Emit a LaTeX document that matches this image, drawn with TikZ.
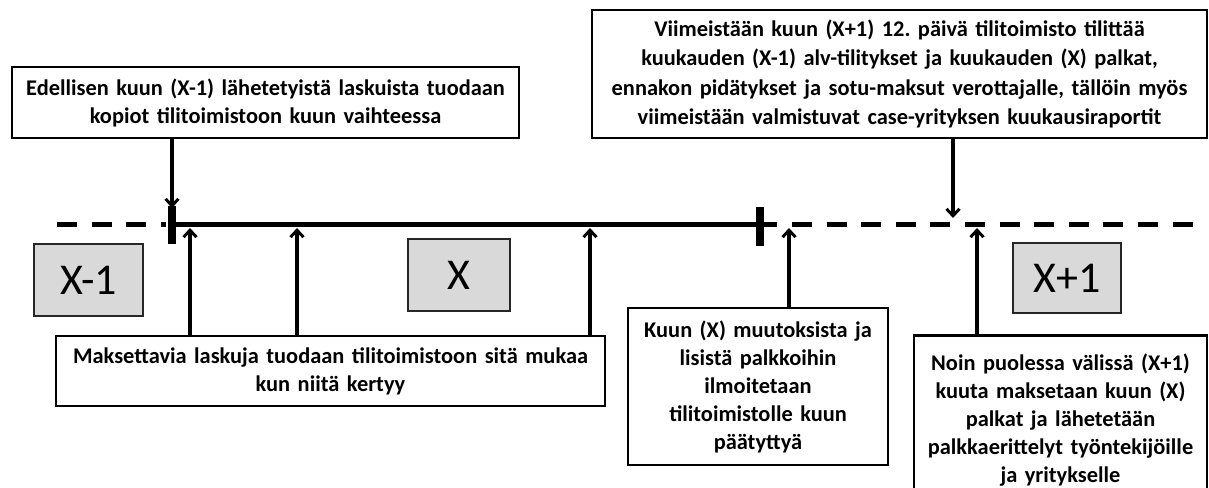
\documentclass[tikz,border=0pt]{standalone}
\usepackage{fontspec}
\setmainfont{Carlito}
\usetikzlibrary{arrows.meta}
\definecolor{monthfill}{HTML}{D9D9D9}
\definecolor{monthline}{HTML}{262626}
\frenchspacing
\begin{document}
\begin{tikzpicture}[x=1pt,y=-1pt,
  note/.style={draw=black, line width=2.6pt, fill=white, align=center, inner sep=0pt,
    font=\bfseries\fontsize{22.4}{28}\selectfont},
  month/.style={draw=monthline, line width=1.8pt, fill=monthfill, inner sep=0pt,
    font=\fontsize{44}{50}\selectfont},
  link/.style={line width=3.5pt, -{Straight Barb[length=7pt,width=13pt,line width=3pt]}},
  axis/.style={line width=5.5pt},
  axisdash/.style={line width=5.5pt, dash pattern=on 20pt off 14.6pt},
  tickmark/.style={line width=8pt}]
\useasboundingbox (0,0) rectangle (1209,487);
\clip (0,0) rectangle (1209,487);

% time axis: previous month dashed, current month solid, next month dashed
\draw[axisdash] (57,224.5) -- (166,224.5);
\draw[axis] (168,224.5) -- (777,224.5);
\draw[axisdash] (792,224.5) -- (1195,224.5);
\draw[tickmark] (172,206) -- (172,244);
\draw[tickmark] (760,207) -- (760,246);

% month labels
\node[month, minimum width=109pt, minimum height=72pt] (m1) at (88.5,280) {X-1};
\node[month, minimum width=102pt, minimum height=72pt] (m2) at (459,275) {X};
\node[month, minimum width=108pt, minimum height=70pt] (m3) at (1067,278) {X+1};

% event descriptions
\node[note, text width=503pt, minimum width=507pt, minimum height=71pt] (tl) at (265.5,102.5)
  {Edellisen kuun (X-1) lähetetyistä laskuista tuodaan\\ kopiot tilitoimistoon kuun vaihteessa};
\node[note, text width=611pt, minimum width=615pt, minimum height=128pt,
  font=\bfseries\fontsize{22.4}{29.5}\selectfont] (tr) at (899.5,74)
  {Viimeistään kuun (X+1) 12. päivä tilitoimisto tilittää\\
   kuukauden (X-1) alv-tilitykset ja kuukauden (X) palkat,\\
   ennakon pidätykset ja sotu-maksut verottajalle, tällöin myös\\
   viimeistään valmistuvat case-yrityksen kuukausiraportit};
\node[note, text width=545pt, minimum width=549pt, minimum height=70pt] (bm) at (330.5,371)
  {Maksettavia laskuja tuodaan tilitoimistoon sitä mukaa\\ kun niitä kertyy};
\node[note, text width=256pt, minimum width=260pt, minimum height=157pt] (kx) at (758,386.5)
  {Kuun (X) muutoksista ja\\ lisistä palkkoihin\\ ilmoitetaan\\ tilitoimistolle kuun\\ päätyttyä};
\node[note, text width=289pt, minimum width=293pt, minimum height=170pt, anchor=north] (np) at (1060.5,334)
  {Noin puolessa välissä (X+1)\\ kuuta maksetaan kuun (X)\\ palkat ja lähetetään\\ palkkaerittelyt työntekijöille\\ ja yritykselle};

% points on the axis where the connectors end
\coordinate (a0) at (172,208);
\coordinate (a5) at (953,218);
\coordinate (b1) at (190,228);
\coordinate (b2) at (297,228);
\coordinate (b3) at (590,228);
\coordinate (b4) at (789,228);
\coordinate (b5) at (977,228);

% connectors
\draw[link] (tl.south -| a0) -- (a0);
\draw[link] (tr.south -| a5) -- (a5);
\draw[link] (bm.north -| b1) -- (b1);
\draw[link] (bm.north -| b2) -- (b2);
\draw[link] (bm.north -| b3) -- (b3);
\draw[link] (kx.north -| b4) -- (b4);
\draw[link] (np.north -| b5) -- (b5);
\end{tikzpicture}
\end{document}
